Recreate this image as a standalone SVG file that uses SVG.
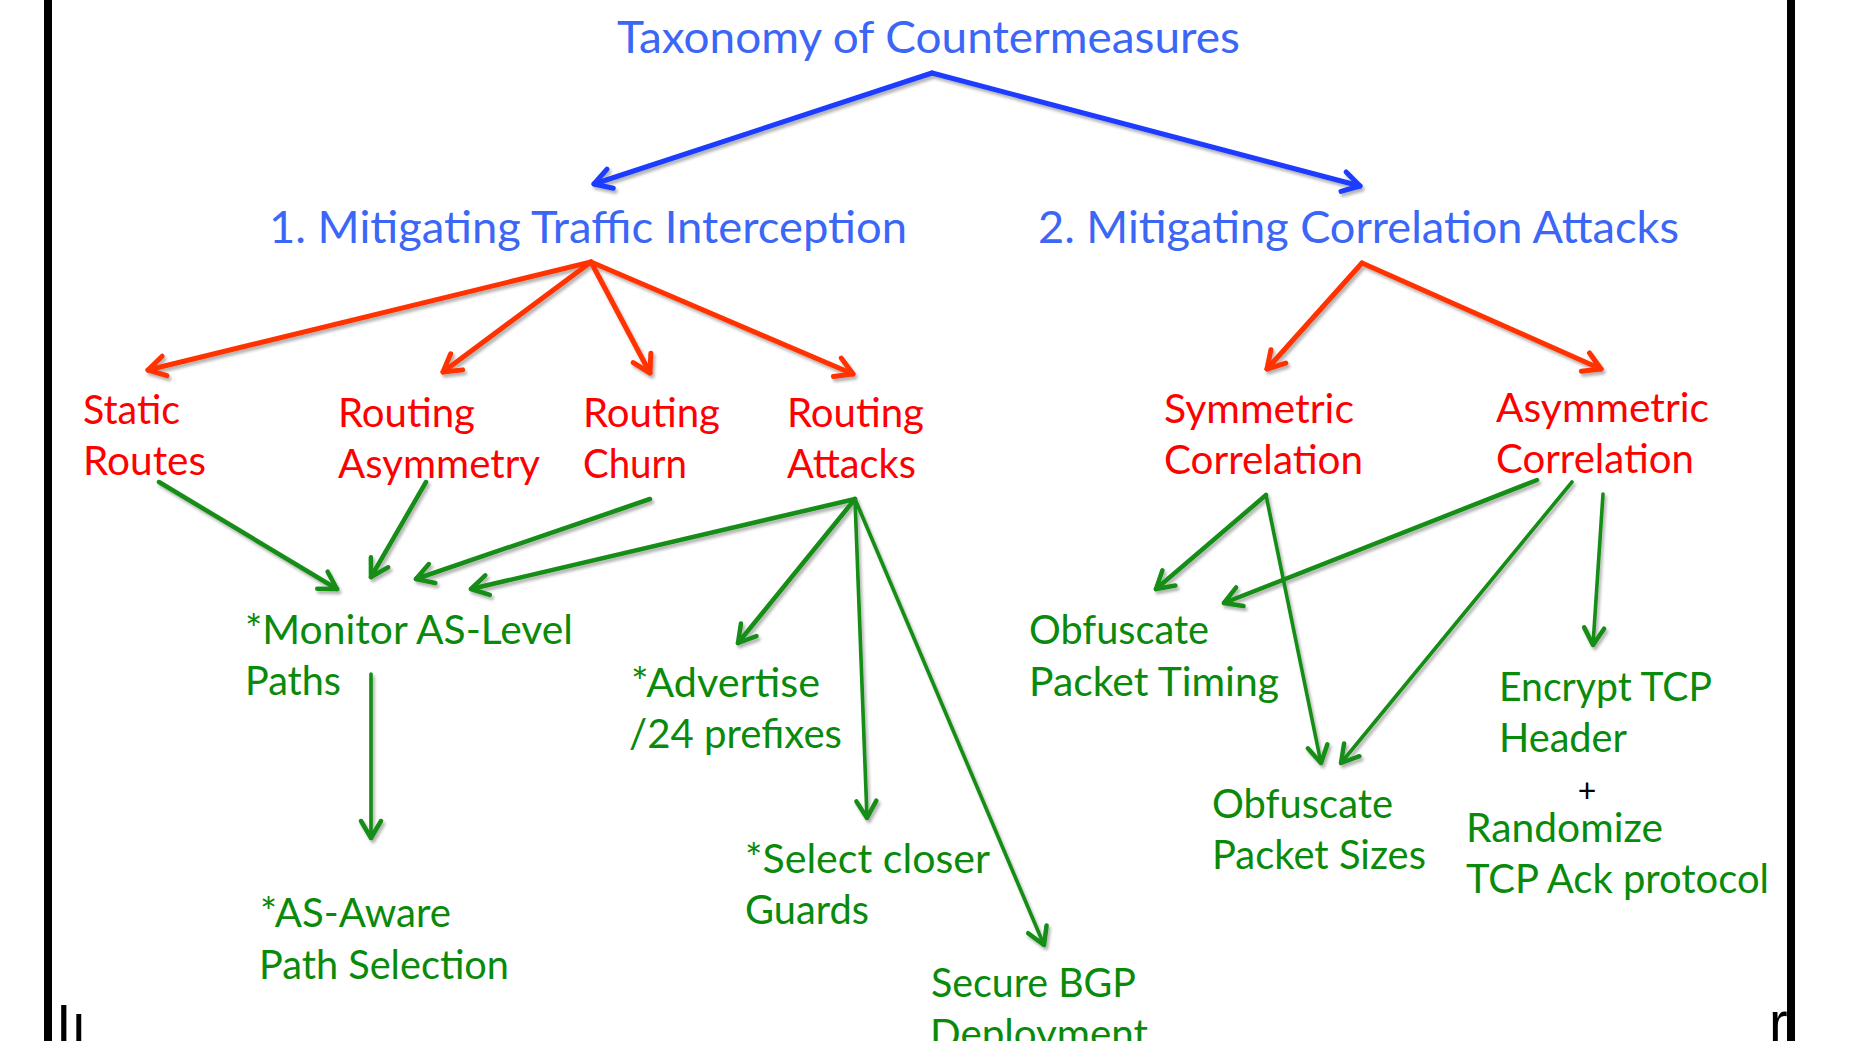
<svg xmlns="http://www.w3.org/2000/svg" width="1852" height="1041" viewBox="0 0 1852 1041">
  <style>
    text { font-family: Lato, "Open Sans", "Liberation Sans", sans-serif; }
    .tb { fill: #3B66F6; font-size: 44px; }
    .tr { fill: #FF0000; font-size: 40px; }
    .tg { fill: #0A8A0A; font-size: 40px; }
    .frag { font-family: "Liberation Sans", Arial, sans-serif; font-size: 56px; fill: #000; }
    .cb { stroke: #1E3CFF; stroke-width: 5; fill: none; marker-end: url(#mb); }
    .cr { stroke: #FF3300; stroke-width: 5; fill: none; marker-end: url(#mr); }
    .cg { stroke: #138D13; stroke-width: 4.5; fill: none; marker-end: url(#mg); }
    .cg.thin { stroke-width: 3.6; }
  </style>
  <defs>
    <filter id="sh" x="-10%" y="-10%" width="120%" height="120%">
      <feDropShadow dx="2" dy="3" stdDeviation="1.5" flood-color="#000" flood-opacity="0.3"/>
    </filter>
    <marker id="mb" markerUnits="userSpaceOnUse" orient="auto" markerWidth="40" markerHeight="40" refX="0" refY="0" viewBox="-25 -20 40 40" overflow="visible">
      <path d="M-17,-10 L0,0 L-17,10" fill="none" stroke="#1E3CFF" stroke-width="5" stroke-linecap="round" stroke-linejoin="round"/>
    </marker>
    <marker id="mr" markerUnits="userSpaceOnUse" orient="auto" markerWidth="40" markerHeight="40" refX="0" refY="0" viewBox="-25 -20 40 40" overflow="visible">
      <path d="M-17,-10 L0,0 L-17,10" fill="none" stroke="#FF3300" stroke-width="5" stroke-linecap="round" stroke-linejoin="round"/>
    </marker>
    <marker id="mg" markerUnits="userSpaceOnUse" orient="auto" markerWidth="40" markerHeight="40" refX="0" refY="0" viewBox="-25 -20 40 40" overflow="visible">
      <path d="M-17,-10 L0,0 L-17,10" fill="none" stroke="#138D13" stroke-width="4.5" stroke-linecap="round" stroke-linejoin="round"/>
    </marker>
  </defs>

  <rect x="0" y="0" width="1852" height="1041" fill="#FFFFFF"/>

  <g id="connectors" filter="url(#sh)" stroke-linecap="round">
    <!-- blue -->
    <line class="cb" x1="932" y1="73" x2="594" y2="184"/>
    <line class="cb" x1="932" y1="73" x2="1360" y2="186"/>
    <!-- red -->
    <line class="cr" x1="591" y1="262" x2="148" y2="370"/>
    <line class="cr" x1="591" y1="262" x2="443" y2="372"/>
    <line class="cr" x1="591" y1="262" x2="650" y2="373"/>
    <line class="cr" x1="591" y1="262" x2="853" y2="374"/>
    <line class="cr" x1="1362" y1="263" x2="1267" y2="369"/>
    <line class="cr" x1="1362" y1="263" x2="1601" y2="369"/>
    <!-- green -->
    <line class="cg" x1="159" y1="482" x2="337" y2="589"/>
    <line class="cg" x1="426" y1="482" x2="371" y2="577"/>
    <line class="cg" x1="650" y1="499" x2="416" y2="579"/>
    <line class="cg" x1="855" y1="499" x2="471" y2="589"/>
    <line class="cg" x1="855" y1="499" x2="738" y2="643"/>
    <line class="cg thin" x1="855" y1="499" x2="867" y2="818"/>
    <line class="cg thin" x1="855" y1="499" x2="1044" y2="945"/>
    <line class="cg thin" x1="371" y1="674" x2="371" y2="838"/>
    <line class="cg" x1="1266" y1="495" x2="1156" y2="589"/>
    <line class="cg thin" x1="1266" y1="495" x2="1321" y2="763"/>
    <line class="cg" x1="1537" y1="480" x2="1224" y2="603"/>
    <line class="cg thin" x1="1572" y1="482" x2="1341" y2="763"/>
    <line class="cg thin" x1="1603" y1="494" x2="1593" y2="645"/>
  </g>

  <g id="n-root"><text class="tb" x="617" y="53" textLength="623" lengthAdjust="spacingAndGlyphs">Taxonomy of Countermeasures</text></g>
  <g id="n-interception"><text class="tb" x="269" y="243" textLength="638" lengthAdjust="spacingAndGlyphs">1. Mitigating Traffic Interception</text></g>
  <g id="n-correlation"><text class="tb" x="1038" y="243" textLength="641" lengthAdjust="spacingAndGlyphs">2. Mitigating Correlation Attacks</text></g>

  <g id="n-static">
    <text class="tr" x="83" y="424" textLength="97" lengthAdjust="spacingAndGlyphs">Static</text>
    <text class="tr" x="83" y="475" textLength="123" lengthAdjust="spacingAndGlyphs">Routes</text>
  </g>
  <g id="n-asymmetry">
    <text class="tr" x="338" y="427" textLength="137" lengthAdjust="spacingAndGlyphs">Routing</text>
    <text class="tr" x="338" y="478" textLength="202" lengthAdjust="spacingAndGlyphs">Asymmetry</text>
  </g>
  <g id="n-churn">
    <text class="tr" x="583" y="427" textLength="137" lengthAdjust="spacingAndGlyphs">Routing</text>
    <text class="tr" x="583" y="478" textLength="104" lengthAdjust="spacingAndGlyphs">Churn</text>
  </g>
  <g id="n-attacks">
    <text class="tr" x="787" y="427" textLength="137" lengthAdjust="spacingAndGlyphs">Routing</text>
    <text class="tr" x="787" y="478" textLength="129" lengthAdjust="spacingAndGlyphs">Attacks</text>
  </g>
  <g id="n-symmetric">
    <text class="tr" x="1164" y="423" textLength="190" lengthAdjust="spacingAndGlyphs">Symmetric</text>
    <text class="tr" x="1164" y="474" textLength="199" lengthAdjust="spacingAndGlyphs">Correlation</text>
  </g>
  <g id="n-asymmetric">
    <text class="tr" x="1496" y="422" textLength="213" lengthAdjust="spacingAndGlyphs">Asymmetric</text>
    <text class="tr" x="1496" y="473" textLength="198" lengthAdjust="spacingAndGlyphs">Correlation</text>
  </g>

  <g id="n-monitor">
    <text class="tg" x="245" y="644" textLength="328" lengthAdjust="spacingAndGlyphs">*Monitor AS-Level</text>
    <text class="tg" x="245" y="695" textLength="96" lengthAdjust="spacingAndGlyphs">Paths</text>
  </g>
  <g id="n-advertise">
    <text class="tg" x="631" y="697" textLength="189" lengthAdjust="spacingAndGlyphs">*Advertise</text>
    <text class="tg" x="629" y="748" textLength="213" lengthAdjust="spacingAndGlyphs">/24 prefixes</text>
  </g>
  <g id="n-asaware">
    <text class="tg" x="260" y="927" textLength="191" lengthAdjust="spacingAndGlyphs">*AS-Aware</text>
    <text class="tg" x="259" y="979" textLength="250" lengthAdjust="spacingAndGlyphs">Path Selection</text>
  </g>
  <g id="n-select">
    <text class="tg" x="745" y="873" textLength="245" lengthAdjust="spacingAndGlyphs">*Select closer</text>
    <text class="tg" x="745" y="924" textLength="124" lengthAdjust="spacingAndGlyphs">Guards</text>
  </g>
  <g id="n-securebgp">
    <text class="tg" x="931" y="997" textLength="205" lengthAdjust="spacingAndGlyphs">Secure BGP</text>
    <text class="tg" x="930" y="1048" textLength="218" lengthAdjust="spacingAndGlyphs">Deployment</text>
  </g>
  <g id="n-timing">
    <text class="tg" x="1029" y="644" textLength="180" lengthAdjust="spacingAndGlyphs">Obfuscate</text>
    <text class="tg" x="1029" y="696" textLength="250" lengthAdjust="spacingAndGlyphs">Packet Timing</text>
  </g>
  <g id="n-sizes">
    <text class="tg" x="1212" y="818" textLength="181" lengthAdjust="spacingAndGlyphs">Obfuscate</text>
    <text class="tg" x="1212" y="869" textLength="214" lengthAdjust="spacingAndGlyphs">Packet Sizes</text>
  </g>
  <g id="n-encrypt">
    <text class="tg" x="1499" y="701" textLength="213" lengthAdjust="spacingAndGlyphs">Encrypt TCP</text>
    <text class="tg" x="1499" y="752" textLength="128" lengthAdjust="spacingAndGlyphs">Header</text>
    <text x="1587" y="802" font-size="32" fill="#000" text-anchor="middle">+</text>
    <text class="tg" x="1466" y="842" textLength="197" lengthAdjust="spacingAndGlyphs">Randomize</text>
    <text class="tg" x="1466" y="893" textLength="303" lengthAdjust="spacingAndGlyphs">TCP Ack protocol</text>
  </g>

  <g id="fragments">
    <text class="frag" x="56" y="1043">I</text>
    <text class="frag" x="71" y="1043">ı</text>
    <text class="frag" x="1769" y="1041">r</text>
  </g>

  <g id="frame" fill="#000">
    <rect x="44" y="0" width="8" height="1041"/>
    <rect x="1787" y="0" width="8" height="1041"/>
  </g>
</svg>
